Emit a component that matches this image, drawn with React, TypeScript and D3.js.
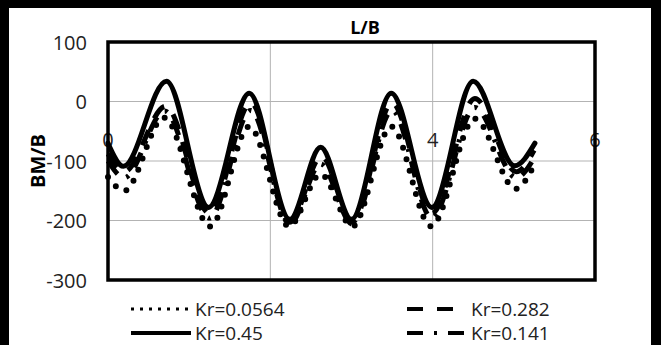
import React from "react";
import * as d3 from "d3";

const WIDTH = 661;
const HEIGHT = 345;

// L/B positions and BM/B values, extremes of each curve
const krSmall = [
  [0, -127], [0.2, -150], [0.69, -27], [1.26, -210], [1.74, -42], [2.23, -210],
  [2.62, -122], [3.01, -210], [3.49, -42], [3.98, -210], [4.52, -29], [5.02, -147], [5.25, -107],
];
const krMid = [
  [0, -88], [0.2, -118], [0.71, -8], [1.25, -188], [1.76, -2], [2.24, -203],
  [2.63, -92], [3.01, -203], [3.5, -2], [3.99, -188], [4.52, 5], [5.03, -118], [5.25, -82],
];
const krLarge = [
  [0, -70], [0.19, -109], [0.72, 34], [1.24, -178], [1.74, 14], [2.24, -198],
  [2.62, -77], [3.0, -198], [3.49, 14], [3.99, -178], [4.5, 34], [5.01, -108], [5.26, -70],
];
const krLow = [
  [0, -100], [0.2, -128], [0.7, -16], [1.25, -196], [1.76, -15], [2.24, -206],
  [2.62, -105], [3.01, -206], [3.5, -15], [3.99, -196], [4.52, -10], [5.03, -128], [5.25, -95],
];

const seriesNames = ["Kr=0.0564", "Kr=0.282", "Kr=0.45", "Kr=0.141"];
const seriesData = [krSmall, krMid, krLarge, krLow];

const xGrid = [0, 2, 4, 6];
// the "2" label is hidden under the curves in the reference
const xTickLabels = ["0", "4", "6"];
const xLabelTicks = [0, 4, 6];
const yTicks = [100, 0, -100, -200, -300];

const FONT = "'Open Sans', 'Noto Sans', sans-serif";

// plot line styles, same order as seriesNames
const plotStyles = [
  { width: 6, dash: "0 12", cap: "round" },
  { width: 5, dash: "16 13", cap: "butt" },
  { width: 5, dash: null, cap: "round" },
  { width: 5, dash: "16 10 3 10", cap: "butt" },
];
const legendStyles = [
  { width: 3, dash: "3 6" },
  { width: 4, dash: "16 14" },
  { width: 4, dash: null },
  { width: 4, dash: "16 11 3 11" },
];

export default function App() {
  const x = d3.scaleLinear().domain([0, 6]).range([108, 595]);
  const y = d3.scaleLinear().domain([-300, 100]).range([280, 42]);

  const line = d3
    .line<number[]>()
    .x((d) => x(d[0]))
    .y((d) => y(d[1]))
    .curve(d3.curveMonotoneX);

  const legendCols = [131, 407];
  const legendRows = [309, 333];

  return (
    <div style={{ position: "absolute", left: 0, top: 0 }}>
      <svg width={WIDTH} height={HEIGHT} style={{ display: "block" }}>
        <rect width={WIDTH} height={HEIGHT} fill="#000" />
        <rect x={9} y={8} width={642} height={HEIGHT} fill="#fff" />

        {/* grid */}
        {yTicks.map((t) => (
          <line key={t} x1={x(0)} x2={x(6)} y1={y(t)} y2={y(t)} stroke="#b3b3b3" strokeWidth={1} />
        ))}
        {xGrid.map((t) => (
          <line key={t} x1={x(t)} x2={x(t)} y1={y(100)} y2={y(-300)} stroke="#b3b3b3" strokeWidth={1} />
        ))}

        {/* y tick labels */}
        {yTicks.map((t) => (
          <text
            key={t}
            x={87}
            y={y(t)}
            textAnchor="end"
            dominantBaseline="central"
            fontFamily={FONT}
            fontSize={20}
            fill="#222"
          >
            {t}
          </text>
        ))}

        {/* x tick labels, sitting under the curves */}
        {xLabelTicks.map((t, i) => (
          <text
            key={t}
            x={x(t)}
            y={139}
            textAnchor="middle"
            dominantBaseline="central"
            fontFamily={FONT}
            fontSize={20}
            fill="#222"
          >
            {xTickLabels[i]}
          </text>
        ))}

        {/* series */}
        {seriesData.map((d, i) => (
          <path
            key={seriesNames[i]}
            d={line(d) || ""}
            fill="none"
            stroke="#000"
            strokeWidth={plotStyles[i].width}
            strokeDasharray={plotStyles[i].dash || undefined}
            strokeLinecap={plotStyles[i].cap as any}
            strokeLinejoin="round"
          />
        ))}

        {/* plot frame */}
        <rect
          x={x(0)}
          y={y(100)}
          width={x(6) - x(0)}
          height={y(-300) - y(100)}
          fill="none"
          stroke="#000"
          strokeWidth={3.5}
        />

        {/* axis titles */}
        <text x={365} y={27} textAnchor="middle" dominantBaseline="central" fontFamily={FONT} fontWeight="bold" fontSize={18}>
          L/B
        </text>
        <text
          transform="translate(37,161) rotate(-90)"
          textAnchor="middle"
          dominantBaseline="central"
          fontFamily={FONT}
          fontWeight="bold"
          fontSize={20}
        >
          BM/B
        </text>

        {/* legend */}
        {seriesNames.map((name, i) => {
          const lx = legendCols[i % 2];
          const ly = legendRows[Math.floor(i / 2)];
          return (
            <g key={name}>
              <line
                x1={lx}
                x2={lx + 60}
                y1={ly}
                y2={ly}
                stroke="#000"
                strokeWidth={legendStyles[i].width}
                strokeDasharray={legendStyles[i].dash || undefined}
              />
              <text x={lx + 64} y={ly} dominantBaseline="central" fontFamily={FONT} fontSize={19} fill="#222">
                {name}
              </text>
            </g>
          );
        })}
      </svg>
    </div>
  );
}
